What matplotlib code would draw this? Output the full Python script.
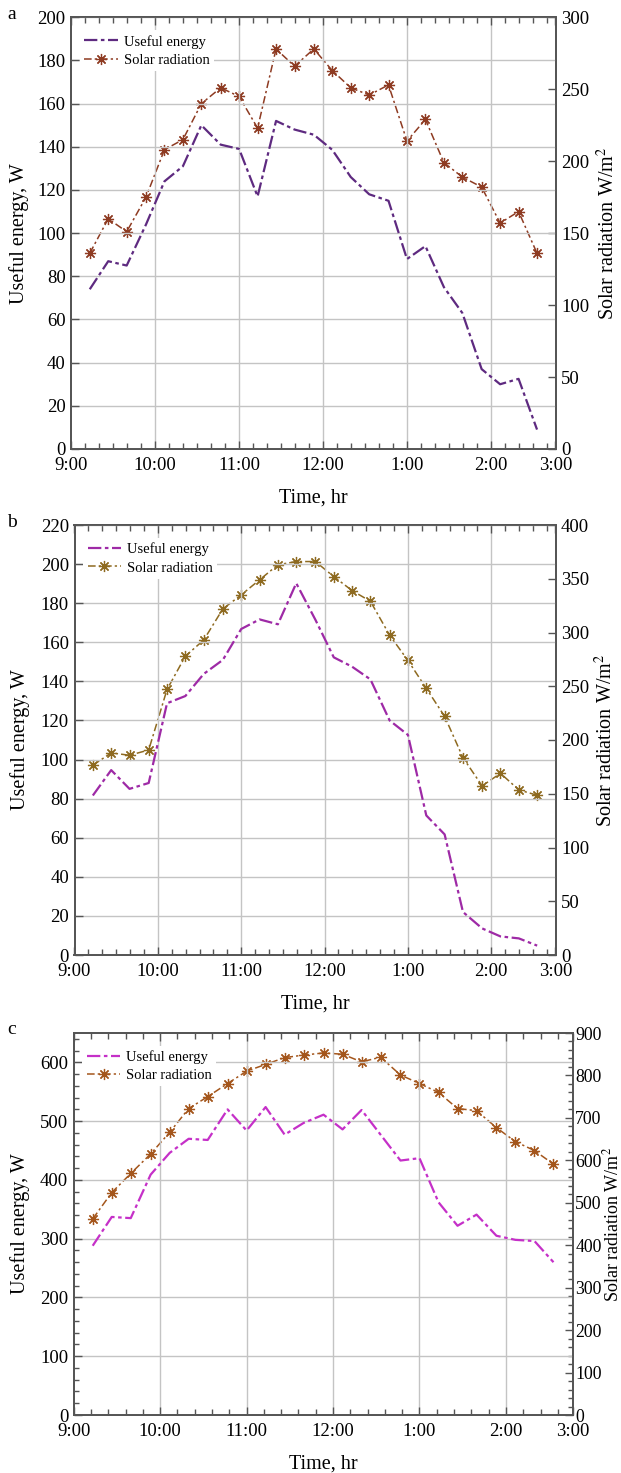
import matplotlib
matplotlib.use("Agg")
import matplotlib.pyplot as plt
from matplotlib.ticker import MultipleLocator, FixedLocator

plt.rcParams['font.family'] = ['Liberation Serif', 'DejaVu Serif']
plt.rcParams['mathtext.fontset'] = 'stix'

# ---- data ----
times = [9.22, 9.44, 9.66, 9.89, 10.11, 10.33, 10.55, 10.78, 11.00, 11.22,
         11.44, 11.66, 11.89, 12.11, 12.33, 12.55, 12.78, 13.00, 13.22, 13.44,
         13.66, 13.89, 14.11, 14.33, 14.55]
hour_ticks = [9, 10, 11, 12, 13, 14]
hour_labels = ["9:00", "10:00", "11:00", "12:00", "1:00", "2:00"]
end_label = "3:00"

a_useful = [74, 87, 85, 104, 124, 131, 150, 141, 139, 117, 152, 148, 145.6,
            138.6, 126, 118, 115, 88, 94, 75, 63, 37, 30, 32.5, 9]
a_solar = [136, 160, 151, 175, 208, 215, 240, 251, 245, 223, 278, 266, 278,
           263, 251, 246, 253, 214, 229, 199, 189, 182, 157, 165, 136]

b_useful = [81.6, 94.6, 85, 88, 128.8, 132.5, 143.8, 151, 166.8, 171.7, 169.2,
            190.2, 171.5, 152.3, 147.5, 141, 120, 112.6, 71.4, 61.7, 22, 13.6,
            9.5, 8.5, 4.8]
b_solar = [176.5, 188, 185.8, 190.7, 247, 278, 293, 322, 335, 349, 363, 366,
           366, 352, 339, 329, 297.5, 274, 248, 222, 183.6, 157.3, 169, 153.6,
           148.6]

c_useful = [288, 337, 335, 409, 446, 470, 468, 520, 484, 524, 477, 497, 511,
            486, 519, 477, 433, 437, 362, 322, 341, 305, 298, 296, 260]
c_solar = [462, 524, 569, 615, 666, 722, 750, 781, 810, 826, 842, 848, 853,
           850, 832, 843, 801, 781, 760, 722, 717, 677, 644, 623, 591]

panels = [
    dict(letter="a", useful=a_useful, solar=a_solar,
         rect=[71.3, 17.3, 555.5, 449], ylab_x=19, y2lab_x=608,
         ylim=(0, 200), ystep=20, y2lim=(0, 300), y2step=50,
         yminor=None, y2minor=None, xminor=1 / 6,
         r_size=13.5, r_pad=4, r_lab=14.5,
         cu="#5e2a80", cs="#8e3b22"),
    dict(letter="b", useful=b_useful, solar=b_solar,
         rect=[74.5, 525, 555.5, 955], ylab_x=20, y2lab_x=606,
         ylim=(0, 220), ystep=20, y2lim=(0, 400), y2step=50,
         yminor=None, y2minor=None, xminor=1 / 6,
         r_size=13.5, r_pad=4, r_lab=14.5,
         cu="#9e2aa6", cs="#8e6a20"),
    dict(letter="c", useful=c_useful, solar=c_solar,
         rect=[73.7, 1033, 572.5, 1415], ylab_x=20, y2lab_x=612,
         ylim=(0, 650), ystep=100, y2lim=(0, 900), y2step=100,
         yminor=20, y2minor=20, xminor=0.2,
         r_size=12.8, r_pad=2, r_lab=13,
         cu="#c530c8", cs="#a4561c"),
]

W, H = 621, 1473
fig = plt.figure(figsize=(W / 100, H / 100), dpi=100)

spine_col = "#555555"
grid_col = "#c4c4c4"
XMAX = 14.77

for p in panels:
    x0, y0, x1, y1 = p["rect"]
    ax = fig.add_axes([x0 / W, 1 - y1 / H, (x1 - x0) / W, (y1 - y0) / H])
    ax2 = ax.twinx()
    ax.set_zorder(ax2.get_zorder() + 1)
    ax.patch.set_visible(False)

    ax.set_xlim(9.0, XMAX)
    ax.set_ylim(*p["ylim"])
    ax2.set_ylim(*p["y2lim"])

    ax.xaxis.set_major_locator(FixedLocator(hour_ticks + [XMAX]))
    ax.set_xticklabels(hour_labels + [end_label])
    ax.xaxis.set_minor_locator(MultipleLocator(p["xminor"]))
    ax.yaxis.set_major_locator(MultipleLocator(p["ystep"]))
    ax2.yaxis.set_major_locator(MultipleLocator(p["y2step"]))
    if p["yminor"]:
        ax.yaxis.set_minor_locator(MultipleLocator(p["yminor"]))
    if p["y2minor"]:
        ax2.yaxis.set_minor_locator(MultipleLocator(p["y2minor"]))

    for a in (ax, ax2):
        for s in a.spines.values():
            s.set_color(spine_col)
            s.set_linewidth(1.3)
    ax.tick_params(axis="x", which="major", direction="in", length=6, width=1,
                   color=spine_col, top=True, labelsize=13.5, pad=6)
    ax.tick_params(axis="x", which="minor", direction="in", length=4, width=1,
                   color=spine_col, top=True)
    ax.tick_params(axis="y", which="major", direction="in", length=6, width=1,
                   color=spine_col, labelsize=13.5, pad=4)
    ax.tick_params(axis="y", which="minor", direction="in", length=3.5, width=1,
                   color=spine_col)
    ax2.tick_params(axis="y", which="major", direction="in", length=6, width=1,
                    color=spine_col, labelsize=p["r_size"], pad=p["r_pad"])
    ax2.tick_params(axis="y", which="minor", direction="in", length=3.5, width=1,
                    color=spine_col)

    # grid: vertical at hours, horizontal at left majors
    for h in hour_ticks[1:]:
        ax.axvline(h, color=grid_col, lw=1.0, zorder=0)
    ax.grid(axis="y", which="major", color=grid_col, lw=1.0, zorder=0)

    lu, = ax.plot(times, p["useful"], color=p["cu"], lw=1.6,
                  dashes=(6, 1.6, 1.6, 1.6), label="Useful energy", zorder=3)
    ls, = ax2.plot(times, p["solar"], color=p["cs"], lw=1.1,
                   dashes=(5, 2, 1.5, 2), marker=(8, 2, 0), markersize=8,
                   markeredgewidth=0.9, markeredgecolor=p["cs"],
                   label="Solar radiation", zorder=3)
    ax.legend([lu, ls], ["Useful energy", "Solar radiation"],
              loc="upper left", bbox_to_anchor=(0.0, 0.99),
              fontsize=10.5, frameon=True, facecolor="white",
              edgecolor="none", framealpha=1.0, fancybox=False,
              handlelength=2.3, handletextpad=0.4, borderpad=0.3,
              labelspacing=0.35, numpoints=1, borderaxespad=0.6)

    ax.set_ylabel("Useful energy, W", fontsize=14.5, va="center")
    ax.yaxis.set_label_coords((p["ylab_x"] - x0) / (x1 - x0), 0.5)
    ax2.set_ylabel("Solar radiation W/m$^2$", fontsize=p["r_lab"], va="center")
    ax2.yaxis.set_label_coords((p["y2lab_x"] - x0) / (x1 - x0), 0.5)
    ax.set_xlabel("Time, hr", fontsize=14.5, labelpad=10)

    fig.text(7 / W, 1 - (y0 - 3) / H, p["letter"], fontsize=14,
             ha="left", va="center")

fig.savefig("out.png", dpi=100)
